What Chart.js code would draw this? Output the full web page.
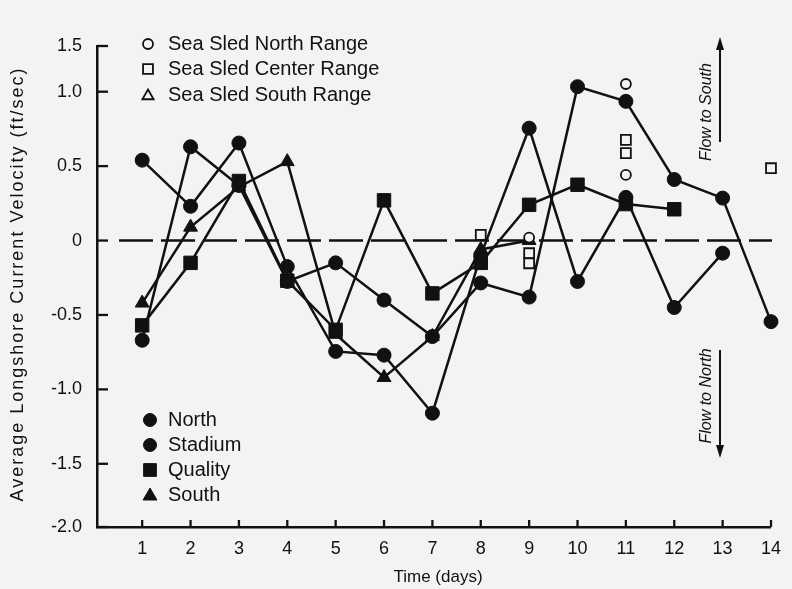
<!DOCTYPE html>
<html><head><meta charset="utf-8">
<script src="https://cdn.jsdelivr.net/npm/chart.js@4.4.0/dist/chart.umd.min.js"></script>
<style>
html,body{margin:0;padding:0;background:#f3f3f1;}
#wrap{position:relative;width:792px;height:589px;}
canvas{display:block;}
</style>
</head><body>
<div id="wrap"><canvas id="c" width="792" height="589"></canvas></div>
<script>
// ---------- data ----------
const days = [1,2,3,4,5,6,7,8,9,10,11,12,13,14];
const north   = [0.54, 0.23, 0.655, -0.175, -0.745, -0.77, -1.16, -0.10, 0.755, -0.275, 0.29, -0.45, -0.085, null];
const stadium = [-0.67, 0.63, 0.37, -0.275, -0.15, -0.40, -0.645, -0.285, -0.38, 1.055, 0.935, 0.41, 0.285, -0.545];
const quality = [-0.57, -0.15, 0.40, -0.27, -0.60, 0.27, -0.355, -0.15, 0.24, 0.375, 0.245, 0.21, null, null];
const south   = [-0.42, 0.09, 0.36, 0.53, -0.63, -0.92, -0.645, -0.06, 0.0, null, null, null, null, null];
const sledNorthDays   = [9, 11, 11];
const sledNorthVals   = [0.02, 1.084, 0.441];
const sledCenterDays  = [8, 9, 9, 11, 11, 14];
const sledCenterVals  = [0.038, -0.085, -0.153, 0.676, 0.587, 0.486];
const sledSouthDays   = [];
const sledSouthVals   = [];
const yTickValues = [-2, -1.5, -1, -0.5, 0, 0.5, 1, 1.5];
const yTickLabels = ['-2.0', '-1.5', '-1.0', '-0.5', '0', '0.5', '1.0', '1.5'];
const seriesNames = ['North', 'Stadium', 'Quality', 'South'];
const sledNames = ['Sea Sled North Range', 'Sea Sled Center Range', 'Sea Sled South Range'];
const xTitle = 'Time (days)';
const yTitle = 'Average Longshore Current Velocity (ft/sec)';
const flowSouth = 'Flow to South';
const flowNorth = 'Flow to North';

// ---------- style ----------
const INK = '#111111';
const BG = '#f3f3f1';
const FONT = '"Liberation Sans", Arial, sans-serif';

// piecewise-linear value axis (the printed axis is not uniform at its ends)
const BREAK_VALS = [-2, -1.5, 1.0, 1.5];
const BREAK_FRAC = [0, 0.1314, 0.905, 1];
class PiecewiseScale extends Chart.LinearScale {
  _frac(v) {
    const bv = BREAK_VALS, bf = BREAK_FRAC;
    let i = 0;
    while (i < bv.length - 2 && v > bv[i + 1]) i++;
    return bf[i] + (v - bv[i]) / (bv[i + 1] - bv[i]) * (bf[i + 1] - bf[i]);
  }
  _inv(f) {
    const bv = BREAK_VALS, bf = BREAK_FRAC;
    let i = 0;
    while (i < bf.length - 2 && f > bf[i + 1]) i++;
    return bv[i] + (f - bf[i]) / (bf[i + 1] - bf[i]) * (bv[i + 1] - bv[i]);
  }
  getPixelForValue(v) {
    if (v === null || v === undefined || isNaN(v)) return NaN;
    return this.bottom - this._frac(v) * (this.bottom - this.top);
  }
  getValueForPixel(p) {
    return this._inv((this.bottom - p) / (this.bottom - this.top));
  }
}
PiecewiseScale.id = 'piecewise';
PiecewiseScale.defaults = Chart.LinearScale.defaults;
Chart.register(PiecewiseScale);

const toPts = (xs, ys) => xs.map((x, i) => ({x: x, y: ys[i]}));

function lineSet(label, vals, style, radius) {
  return {
    label: label, data: toPts(days, vals), clip: false,
    borderColor: INK, backgroundColor: INK, borderWidth: 2.5,
    pointStyle: style, pointRadius: radius, pointBorderWidth: 1,
    pointBackgroundColor: INK, pointBorderColor: INK,
    tension: 0, spanGaps: false, fill: false
  };
}
function sledSet(label, xs, ys, style, radius) {
  return {
    label: label, data: toPts(xs, ys), showLine: false, clip: false,
    pointStyle: style, pointRadius: radius, pointBorderWidth: 1.8,
    pointBackgroundColor: BG, pointBorderColor: INK, borderColor: INK, backgroundColor: BG
  };
}

const decor = {
  id: 'decor',
  beforeDraw(chart) {
    const c = chart.ctx;
    c.save(); c.fillStyle = BG; c.fillRect(0, 0, chart.width, chart.height); c.restore();
  },
  beforeDatasetsDraw(chart) {
    const c = chart.ctx, y = chart.scales.y, x = chart.scales.x;
    const y0 = y.getPixelForValue(0);
    c.save();
    c.strokeStyle = INK; c.lineWidth = 2.5; c.setLineDash([34, 8]);
    c.beginPath(); c.moveTo(x.left + 22, y0); c.lineTo(772, y0); c.stroke();
    c.restore();
  },
  afterDraw(chart) {
    const c = chart.ctx, ys = chart.scales.y, xs = chart.scales.x;
    const L = xs.left, B = ys.bottom;
    c.save();
    c.strokeStyle = INK; c.lineWidth = 2.3; c.setLineDash([]);
    // inside tick marks
    yTickValues.forEach(v => {
      const p = ys.getPixelForValue(v);
      c.beginPath(); c.moveTo(L, p); c.lineTo(L + 11, p); c.stroke();
    });
    days.forEach(d => {
      const p = xs.getPixelForValue(d);
      c.beginPath(); c.moveTo(p, B); c.lineTo(p, B - 7); c.stroke();
    });
    // legends
    c.fillStyle = INK; c.textBaseline = 'middle'; c.textAlign = 'left';
    c.font = '20px ' + FONT;
    const sledStyles = ['circle', 'rect', 'triangle'];
    const sledR = [5, 7, 6.5];
    const topRows = [44, 69, 95];
    sledNames.forEach((t, i) => {
      c.save();
      c.lineWidth = 1.8; c.strokeStyle = INK; c.fillStyle = BG;
      Chart.helpers.drawPoint(c, {pointStyle: sledStyles[i], radius: sledR[i], rotation: 0, borderWidth: 1.8}, 148, topRows[i] + (i === 2 ? 1 : 0));
      c.restore();
      c.fillText(t, 168, topRows[i]);
    });
    const filledStyles = ['circle', 'circle', 'rect', 'triangle'];
    const filledR = [6.5, 6.5, 9, 8];
    const botRows = [420, 445, 470, 495];
    seriesNames.forEach((t, i) => {
      c.save();
      c.lineWidth = 1; c.strokeStyle = INK; c.fillStyle = INK;
      Chart.helpers.drawPoint(c, {pointStyle: filledStyles[i], radius: filledR[i], rotation: 0, borderWidth: 1}, 150, botRows[i] + (i === 3 ? 1 : 0));
      c.restore();
      c.fillText(t, 168, botRows[i]);
    });
    // axis titles
    c.textAlign = 'center';
    c.font = '17px ' + FONT;
    c.fillText(xTitle, 438, 577);
    c.save();
    c.translate(18, 284); c.rotate(-Math.PI / 2);
    c.font = '18px ' + FONT;
    try { c.letterSpacing = '2px'; } catch (e) {}
    c.fillText(yTitle, 0, 0);
    c.restore();
    // flow annotations
    c.font = 'italic 16px ' + FONT;
    c.save(); c.translate(707, 112); c.rotate(-Math.PI / 2); c.fillText(flowSouth, 0, 0); c.restore();
    c.save(); c.translate(707, 396); c.rotate(-Math.PI / 2); c.fillText(flowNorth, 0, 0); c.restore();
    c.lineWidth = 2;
    c.beginPath(); c.moveTo(720, 142); c.lineTo(720, 40); c.stroke();
    c.beginPath(); c.moveTo(716, 50); c.lineTo(720, 37); c.lineTo(724, 50); c.closePath(); c.fill();
    c.beginPath(); c.moveTo(720, 350); c.lineTo(720, 452); c.stroke();
    c.beginPath(); c.moveTo(716, 445); c.lineTo(720, 458); c.lineTo(724, 445); c.closePath(); c.fill();
    c.restore();
  }
};

new Chart(document.getElementById('c').getContext('2d'), {
  type: 'line',
  data: {
    datasets: [
      sledSet(sledNames[0], sledNorthDays, sledNorthVals, 'circle', 5),
      sledSet(sledNames[1], sledCenterDays, sledCenterVals, 'rect', 7),
      sledSet(sledNames[2], sledSouthDays, sledSouthVals, 'triangle', 6.5),
      lineSet(seriesNames[0], north, 'circle', 7),
      lineSet(seriesNames[1], stadium, 'circle', 7),
      lineSet(seriesNames[2], quality, 'rect', 9.5),
      lineSet(seriesNames[3], south, 'triangle', 8)
    ]
  },
  options: {
    responsive: false, animation: false, devicePixelRatio: 1,
    layout: {padding: {top: 46, right: 13, left: 0, bottom: 0}},
    plugins: {legend: {display: false}, tooltip: {enabled: false}},
    scales: {
      x: {
        type: 'linear', min: 0.066, max: 14,
        afterBuildTicks: s => { s.ticks = days.map(v => ({value: v})); },
        afterFit: s => { s.height = 62; },
        grid: {display: false, drawTicks: false},
        border: {display: true, color: INK, width: 2.5},
        ticks: {padding: 11, color: INK, font: {family: FONT, size: 18}, maxRotation: 0, autoSkip: false,
                callback: v => String(v)}
      },
      y: {
        type: 'piecewise', min: -2, max: 1.5,
        afterBuildTicks: s => { s.ticks = yTickValues.map(v => ({value: v})); },
        afterFit: s => { s.width = 97; },
        grid: {display: false, drawTicks: false},
        border: {display: true, color: INK, width: 2.5},
        ticks: {padding: 15, color: INK, font: {family: FONT, size: 18}, autoSkip: false,
                callback: (v) => { const k = yTickValues.indexOf(v); return k >= 0 ? yTickLabels[k] : ''; }}
      }
    }
  },
  plugins: [decor]
});
</script>
</body></html>
